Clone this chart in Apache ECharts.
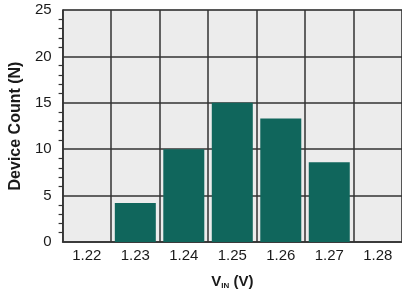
<!DOCTYPE html>
<html><head><meta charset="utf-8">
<script src="https://cdn.jsdelivr.net/npm/echarts@6/dist/echarts.min.js"></script>
<style>html,body{margin:0;padding:0;background:#fff}#c{width:402px;height:295px}</style>
</head><body><div id="c"></div>
<script>
var categories = ['1.22','1.23','1.24','1.25','1.26','1.27','1.28'];
var deviceCounts = [0, 4.2, 10.0, 15.0, 13.3, 8.6, 0];
var yTicks = [0, 5, 10, 15, 20, 25];

var chart = echarts.init(document.getElementById('c'), null, {renderer:'canvas'});
var font = 'Liberation Sans, Arial, Helvetica, sans-serif';
chart.setOption({
  animation: false,
  backgroundColor: '#fff',
  grid: {left: 60, right: -3, top: 10, bottom: 52.5, show: true, backgroundColor: '#ececec', borderColor: '#888', borderWidth: 1},
  xAxis: {
    type: 'category', data: categories, boundaryGap: true,
    axisLine: {show: true, lineStyle: {color: '#333', width: 1.5}},
    axisTick: {show: false},
    splitLine: {show: true, interval: 0, lineStyle: {color: '#333', width: 1.5}},
    axisLabel: {color: '#1a1a1a', fontFamily: font, fontSize: 15, margin: 6, interval: 0},
    name: '{v|V}{s|IN}{v| (V)}', nameLocation: 'middle', nameGap: 31,
    nameTextStyle: {rich: {
      v: {fontFamily: font, fontSize: 15, fontWeight: 'bold', color: '#1a1a1a'},
      s: {fontFamily: font, fontSize: 8, fontWeight: 'bold', color: '#1a1a1a', verticalAlign: 'bottom', padding: [9,0,0,0]}
    }}
  },
  yAxis: {
    type: 'value', min: 0, max: 25, interval: 5,
    axisLine: {show: true, lineStyle: {color: '#333', width: 1.5}},
    axisTick: {show: false},
    minorTick: {show: true, splitNumber: 5, length: 4, lineStyle: {color: '#333', width: 1.2}},
    splitLine: {show: true, lineStyle: {color: '#333', width: 1.5}},
    axisLabel: {color: '#1a1a1a', fontFamily: font, fontSize: 15, margin: 11,
      formatter: function(v){ return yTicks.indexOf(v) >= 0 ? String(v) : ''; }},
    name: 'Device Count (N)', nameLocation: 'middle', nameGap: 37,
    nameTextStyle: {fontFamily: font, fontSize: 16, fontWeight: 'bold', color: '#1a1a1a'}
  },
  series: [{
    type: 'bar', data: deviceCounts, barWidth: 41,
    itemStyle: {color: '#10665c'}
  }]
});
</script></body></html>
